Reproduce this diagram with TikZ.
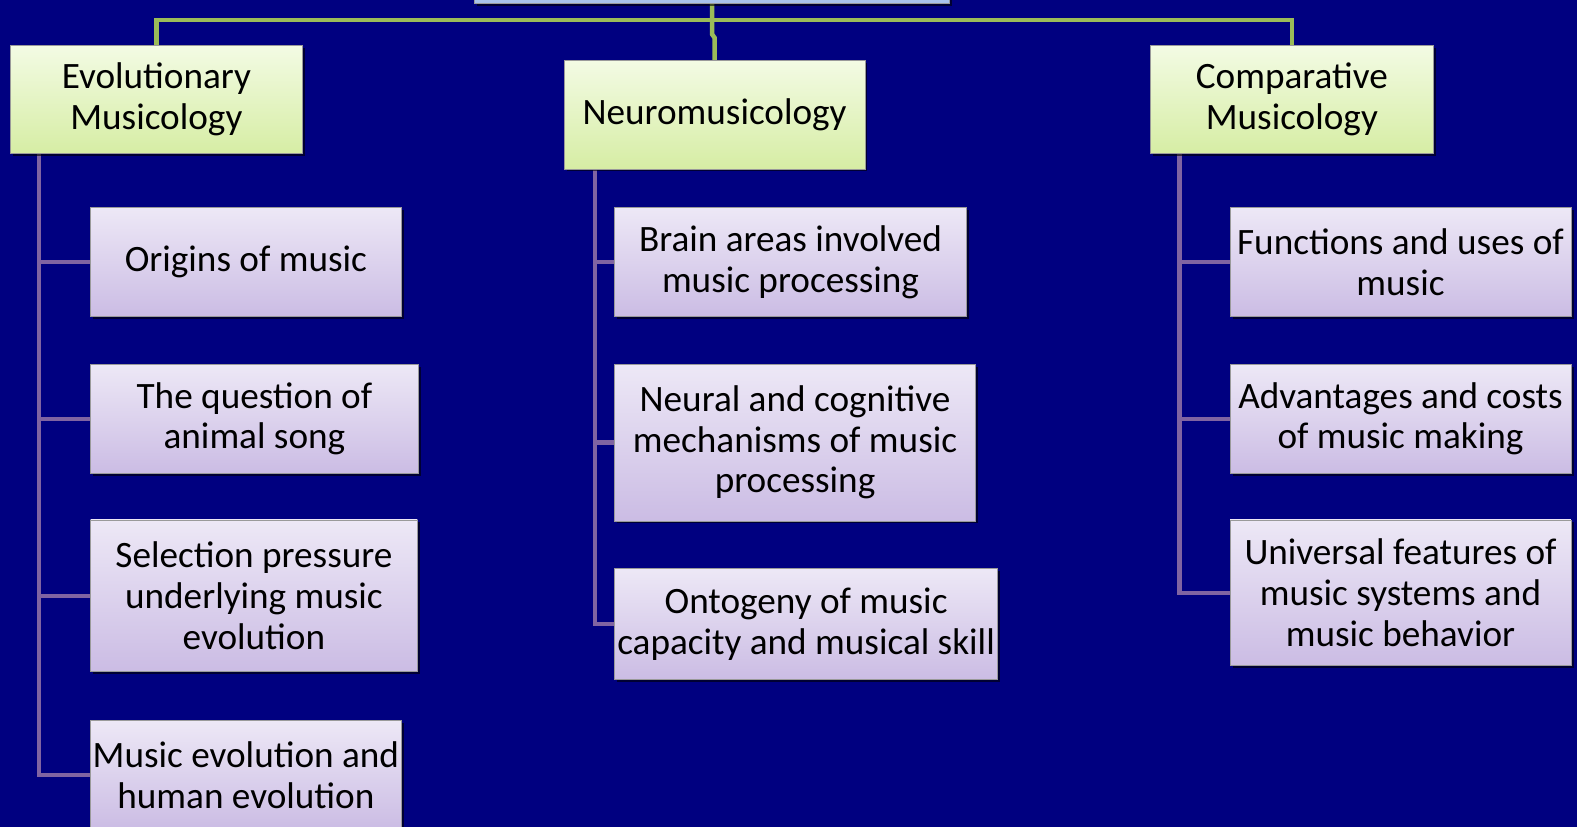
\documentclass[tikz,border=0pt]{standalone}
\usepackage{fontspec}
\setmainfont{Carlito}
\usetikzlibrary{shadows,calc,backgrounds}
\definecolor{bg}{HTML}{000080}
\definecolor{gtop}{HTML}{F3FBE4}
\definecolor{gbot}{HTML}{D6EDA4}
\definecolor{ptop}{HTML}{EDE8F6}
\definecolor{pbot}{HTML}{CBBCE4}
\definecolor{btop}{HTML}{C9DAF3}
\definecolor{bbot}{HTML}{A8C2EC}
\definecolor{gline}{HTML}{9BBB59}
\definecolor{pline}{HTML}{8064A2}
\definecolor{edge}{HTML}{9A9A9A}
\tikzset{
  basebox/.style={rectangle, draw=edge, line width=0.8pt, inner sep=0pt, align=center,
    font=\fontsize{37}{40.5}\selectfont,
    drop shadow={shadow xshift=2.5pt, shadow yshift=-2.5pt, opacity=0.6, fill=black}},
  gbox/.style={basebox, top color=gtop, bottom color=gbot},
  pbox/.style={basebox, top color=ptop, bottom color=pbot},
  rbox/.style={basebox, top color=btop, bottom color=bbot},
  glink/.style={draw=gline, line width=4.5pt},
  plink/.style={draw=pline, line width=4.5pt},
}
\begin{document}
\begin{tikzpicture}[x=1pt,y=-1pt]
\useasboundingbox (0,0) rectangle (1568,822);
\clip (0,0) rectangle (1568,822);

\coordinate (bus) at (708,20);
\node[rbox, minimum width=472pt, minimum height=103pt] (root) at (708,-48.5) {};

\node[gbox, minimum width=291pt, minimum height=108pt] (evo) at (155.5,99) {Evolutionary\\Musicology};
\node[gbox, minimum width=299pt, minimum height=108pt] (neuro) at (710.5,114) {Neuromusicology};
\node[gbox, minimum width=281pt, minimum height=108pt] (comp) at (1284.5,99) {Comparative\\Musicology};

\node[pbox, minimum width=309pt, minimum height=109pt] (e1) at (244.5,260.5) {Origins of music};
\node[pbox, minimum width=326pt, minimum height=109pt] (e2) at (253,416.5) {The question of\\animal song};
\node[pbox, minimum width=325pt, minimum height=151pt] (e3) at (252.5,592.5) {Selection pressure\\underlying music\\evolution};
\node[pbox, minimum width=309pt, minimum height=109pt] (e4) at (244.5,770.5) {Music evolution and\\human evolution};

\node[pbox, minimum width=350pt, minimum height=109pt] (n1) at (786,260.5) {Brain areas involved\\music processing};
\node[pbox, minimum width=359pt, minimum height=156pt] (n2) at (790.5,440) {Neural and cognitive\\mechanisms of music\\processing};
\node[pbox, minimum width=381pt, minimum height=111pt] (n3) at (801.5,620.5) {Ontogeny of music\\capacity and musical skill};

\node[pbox, minimum width=339pt, minimum height=109pt] (r1) at (1392.5,260.5) {Functions and uses of\\music};
\node[pbox, minimum width=339pt, minimum height=109pt] (r2) at (1392.5,416.5) {Advantages and costs\\of music making};
\node[pbox, minimum width=339pt, minimum height=145pt] (r3) at (1392.5,589.5) {Universal features of\\music systems and\\music behavior};

\begin{scope}[on background layer]
\fill[bg] (0,0) rectangle (1568,822);
% green connectors
\draw[glink] (evo.north) |- (bus) -| (comp.north);
\draw[glink] (root.south) -- (bus) -- ++(0,14) -- ($(neuro.north)+(0,-22)$) -- (neuro.north);
% purple connectors
\coordinate (eL) at ($(evo.south west)+(29,0)$);
\coordinate (nL) at ($(neuro.south west)+(31,0)$);
\coordinate (rL) at ($(comp.south west)+(29,0)$);
\draw[plink] (eL) |- (e4.west);
\draw[plink] (eL) |- (e1.west);
\draw[plink] (eL) |- (e2.west);
\draw[plink] (eL) |- (e3.west);
\draw[plink] (nL) |- (n3.west);
\draw[plink] (nL) |- (n1.west);
\draw[plink] (nL) |- (n2.west);
\draw[plink] (rL) |- (r3.west);
\draw[plink] (rL) |- (r1.west);
\draw[plink] (rL) |- (r2.west);
\end{scope}
\end{tikzpicture}
\end{document}
